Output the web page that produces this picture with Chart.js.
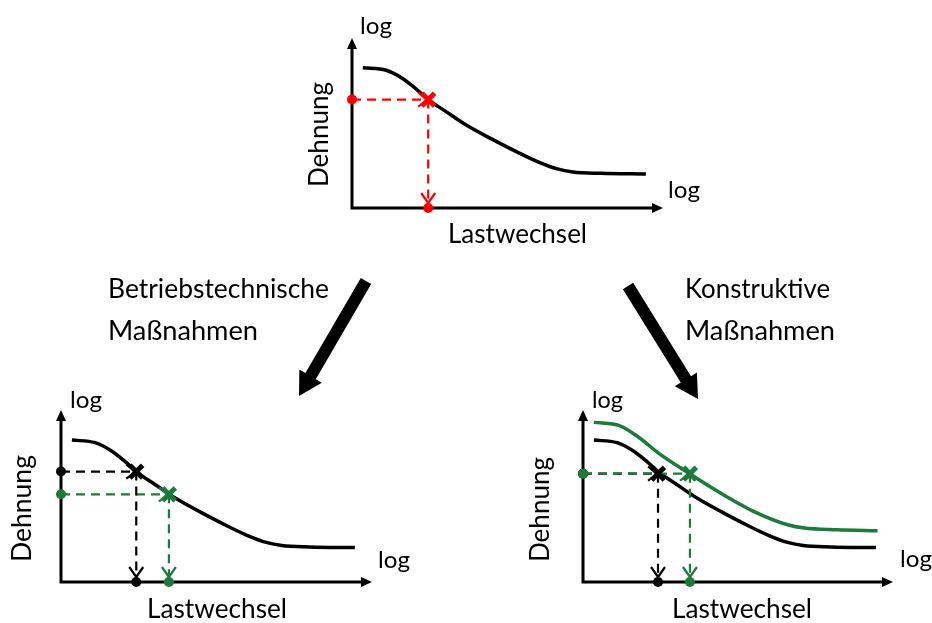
<!DOCTYPE html>
<html>
<head>
<meta charset="utf-8">
<script src="https://cdn.jsdelivr.net/npm/chart.js@4"></script>
<style>
    body { margin: 0; background: #fff; width: 932px; height: 623px; overflow: hidden; position: relative; font-family: Lato, sans-serif; }
    canvas { position: absolute; }
    .t { position: absolute; white-space: nowrap; color: #000; line-height: 1; }
</style>
</head>
<body>
<canvas id="arrows" width="932" height="623" style="left:0;top:0"></canvas>
<canvas id="chartTop" width="351" height="210" style="left:332px;top:18px"></canvas>
<canvas id="chartLeft" width="351" height="212" style="left:41px;top:390px"></canvas>
<canvas id="chartRight" width="350" height="212" style="left:563px;top:390px"></canvas>
<script>
// Wertebereich der Diagramme (logarithmisch gedacht, hier 0..10)
const axisMin = 0;
const axisMax = 10;

// Dehnungs-Wöhlerlinie (Ausgangszustand)
const curveX = [0.35, 1.10, 1.60, 2.00, 2.45, 3.00, 3.70, 4.50, 5.30, 6.00, 6.60, 7.10, 8.00, 9.45];
const curveY = [8.25, 8.10, 7.65, 7.10, 6.38, 5.70, 4.85, 4.05, 3.30, 2.70, 2.30, 2.12, 2.04, 2.00];

// Wöhlerlinie nach konstruktiven Maßnahmen
const shiftedX = [0.35, 1.19, 1.73, 2.48, 3.45, 4.42, 5.50, 6.60, 7.14, 8.20, 9.50];
const shiftedY = [9.28, 9.08, 8.50, 7.43, 6.28, 5.19, 4.11, 3.33, 3.14, 3.04, 2.98];

// Arbeitspunkte [Lastwechsel, Dehnung]
const pointTop = [2.45, 6.38];
const pointsLeft = [[2.42, 6.42], [3.47, 5.10]];
const pointsRight = [[2.42, 6.30], [3.45, 6.30]];

const RED = '#ff0000';
const GREEN = '#1c7a3c';
const BLACK = '#000000';

const toXY = (xs, ys) => xs.map((x, i) => ({ x, y: ys[i] }));

const curveSet = (xs, ys, color) => ({
    data: toXY(xs, ys),
    showLine: true,
    borderColor: color,
    borderWidth: 3.5,
    pointRadius: 0,
    cubicInterpolationMode: 'monotone',
    order: 3,
    clip: false
});

// Hilfslinien, Punkte und Kreuz für einen Arbeitspunkt
const guideSets = (p, color) => {
    const [px, py] = p;
    const dash = { showLine: true, borderColor: color, borderWidth: 2.2, borderDash: [9, 6], pointRadius: 0, order: 2, clip: false };
    return [
        { ...dash, data: [{ x: 0, y: py }, { x: px, y: py }], guide: 'h' },
        { ...dash, data: [{ x: px, y: py }, { x: px, y: 0 }], guide: 'v' },
        { data: [{ x: 0, y: py }, { x: px, y: 0 }], showLine: false, pointRadius: 5, backgroundColor: color, pointBackgroundColor: color, pointBorderWidth: 0, borderWidth: 0, order: 1, clip: false },
        { data: [{ x: px, y: py }], showLine: false, pointStyle: 'crossRot', pointRadius: 9, borderColor: color, pointBorderColor: color, borderWidth: 5, pointBorderWidth: 5, order: 0, clip: false }
    ];
};

// Achsen mit Pfeilspitzen
const axesPlugin = {
    id: 'axes',
    beforeDatasetsDraw(chart) {
        const { ctx, chartArea: a } = chart;
        ctx.save();
        ctx.strokeStyle = BLACK;
        ctx.fillStyle = BLACK;
        ctx.lineWidth = 3;
        ctx.beginPath();
        ctx.moveTo(a.left, a.top + 8);
        ctx.lineTo(a.left, a.bottom);
        ctx.lineTo(a.right - 8, a.bottom);
        ctx.stroke();
        ctx.beginPath();
        ctx.moveTo(a.left, a.top);
        ctx.lineTo(a.left - 5, a.top + 11);
        ctx.lineTo(a.left + 5, a.top + 11);
        ctx.closePath();
        ctx.fill();
        ctx.beginPath();
        ctx.moveTo(a.right, a.bottom);
        ctx.lineTo(a.right - 11, a.bottom - 5);
        ctx.lineTo(a.right - 11, a.bottom + 5);
        ctx.closePath();
        ctx.fill();
        ctx.restore();
    }
};

// offene Pfeilspitzen am Ende der Hilfslinien
const chevronPlugin = {
    id: 'chevrons',
    afterDatasetsDraw(chart) {
        const { ctx } = chart;
        chart.data.datasets.forEach((ds, i) => {
            if (!ds.guide) return;
            const pts = chart.getDatasetMeta(i).data;
            const end = pts[pts.length - 1];
            ctx.save();
            ctx.strokeStyle = ds.borderColor;
            ctx.lineWidth = 2.2;
            ctx.beginPath();
            if (ds.guide === 'h') {
                ctx.moveTo(end.x - 10, end.y - 7);
                ctx.lineTo(end.x, end.y);
                ctx.lineTo(end.x - 10, end.y + 7);
            } else {
                const tipY = end.y - 5;
                ctx.moveTo(end.x - 7, tipY - 10);
                ctx.lineTo(end.x, tipY);
                ctx.lineTo(end.x + 7, tipY - 10);
            }
            ctx.stroke();
            ctx.restore();
        });
    }
};

const makePanel = (id, datasets) => {
    new Chart(document.getElementById(id), {
        type: 'scatter',
        data: { datasets },
        options: {
            responsive: false,
            animation: false,
            events: [],
            layout: { padding: 20 },
            scales: {
                x: { type: 'linear', min: axisMin, max: axisMax, display: false },
                y: { type: 'linear', min: axisMin, max: axisMax, display: false }
            },
            plugins: { legend: { display: false }, tooltip: { enabled: false } }
        },
        plugins: [axesPlugin, chevronPlugin]
    });
};

makePanel('chartTop', [
    curveSet(curveX, curveY, BLACK),
    ...guideSets(pointTop, RED)
]);

makePanel('chartLeft', [
    curveSet(curveX, curveY, BLACK),
    ...guideSets(pointsLeft[0], BLACK),
    ...guideSets(pointsLeft[1], GREEN)
]);

makePanel('chartRight', [
    curveSet(shiftedX, shiftedY, GREEN),
    curveSet(curveX, curveY, BLACK),
    ...guideSets(pointsRight[1], GREEN),
    ...guideSets(pointsRight[0], BLACK)
]);

// große Pfeile zwischen den Diagrammen
const drawArrow = (ctx, x1, y1, x2, y2) => {
    const ang = Math.atan2(y2 - y1, x2 - x1);
    const headLen = 23, headW = 13, shaftW = 6;
    const bx = x2 - headLen * Math.cos(ang), by = y2 - headLen * Math.sin(ang);
    const nx = -Math.sin(ang), ny = Math.cos(ang);
    ctx.beginPath();
    ctx.moveTo(x1 + nx * shaftW, y1 + ny * shaftW);
    ctx.lineTo(bx + nx * shaftW, by + ny * shaftW);
    ctx.lineTo(bx + nx * headW, by + ny * headW);
    ctx.lineTo(x2, y2);
    ctx.lineTo(bx - nx * headW, by - ny * headW);
    ctx.lineTo(bx - nx * shaftW, by - ny * shaftW);
    ctx.lineTo(x1 - nx * shaftW, y1 - ny * shaftW);
    ctx.closePath();
    ctx.fill();
};
const actx = document.getElementById('arrows').getContext('2d');
actx.fillStyle = BLACK;
drawArrow(actx, 366, 281, 299, 396);
drawArrow(actx, 628, 286, 698, 399);

// Beschriftungen: x, Grundlinie y, Zielbreite, Schriftgröße
const labels = [
    { text: 'log', x: 360, y: 34, w: 32, size: 24 },
    { text: 'log', x: 668, y: 198, w: 32, size: 24 },
    { text: 'Lastwechsel', x: 448, y: 243, w: 139, size: 27 },
    { text: 'Dehnung', x: 328, y: 187, w: 105, size: 27, rot: true },
    { text: 'log', x: 70, y: 408, w: 32, size: 24 },
    { text: 'log', x: 378, y: 568, w: 32, size: 24 },
    { text: 'Lastwechsel', x: 147, y: 618, w: 140, size: 27 },
    { text: 'Dehnung', x: 31, y: 562, w: 107, size: 27, rot: true },
    { text: 'log', x: 592, y: 408, w: 31, size: 24 },
    { text: 'log', x: 900, y: 567, w: 32, size: 24 },
    { text: 'Lastwechsel', x: 672, y: 618, w: 140, size: 27 },
    { text: 'Dehnung', x: 549, y: 562, w: 105, size: 27, rot: true },
    { text: 'Betriebstechnische', x: 108, y: 298, w: 221, size: 26 },
    { text: 'Maßnahmen', x: 108, y: 340, w: 150, size: 26 },
    { text: 'Konstruktive', x: 685, y: 298, w: 145, size: 26 },
    { text: 'Maßnahmen', x: 685, y: 340, w: 150, size: 26 }
];

labels.forEach(l => {
    const el = document.createElement('div');
    el.className = 't';
    el.style.fontSize = l.size + 'px';
    el.textContent = l.text;
    const probe = document.createElement('span');
    probe.style.cssText = 'display:inline-block;width:0;height:0;vertical-align:baseline';
    el.appendChild(probe);
    document.body.appendChild(el);
    const asc = probe.offsetTop;
    const k = l.w / el.getBoundingClientRect().width;
    el.style.left = l.x + 'px';
    el.style.top = (l.y - asc) + 'px';
    el.style.transformOrigin = '0 ' + asc + 'px';
    el.style.transform = (l.rot ? 'rotate(-90deg) ' : '') + 'scaleX(' + k.toFixed(3) + ')';
});
</script>
</body>
</html>
